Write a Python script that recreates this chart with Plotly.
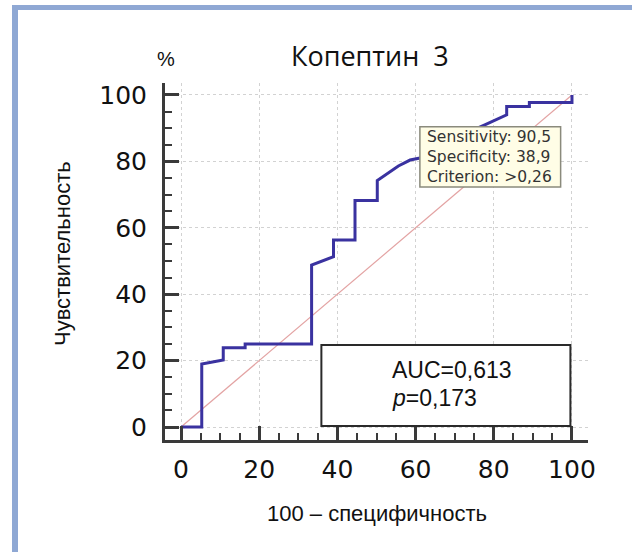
import plotly.graph_objects as go

# ---- data ----
fpr = [0, 5.3, 5.3, 10.8, 10.8, 16.4, 16.4, 33.4, 33.4, 39.0, 39.0, 44.5, 44.5,
       50.2, 50.2, 55.6, 58.6, 61.1, 66.7, 72.2, 77.7, 83.3, 83.3, 89.1, 89.1, 100, 100]
tpr = [0, 0, 19.0, 20.2, 23.9, 23.9, 25.0, 25.0, 48.8, 51.3, 56.3, 56.3, 68.2,
       68.2, 74.2, 78.6, 80.4, 81.0, 85.7, 88.1, 91.0, 94.0, 96.5, 96.5, 97.7, 97.7, 100]
diag_x = [0, 100]
diag_y = [0, 100]
tick_vals = [0, 20, 40, 60, 80, 100]
tick_text = ["0", "20", "40", "60", "80", "100"]
title_text = "Копептин  3"
x_title = "100 – специфичность"
y_title = "Чувствительность"
auc_lines = ["AUC=0,613", "<i>p</i>=0,173"]
tip_lines = ["Sensitivity: 90,5", "Specificity: 38,9", "Criterion: >0,26"]

W, H = 632, 552
L, R, T, B = 165, 44, 83, 112
PW, PH = W - L - R, H - T - B


def pxx(px):
    return (px - L) / PW


def pxy(py):
    return (H - B - py) / PH


fig = go.Figure()
fig.add_trace(go.Scatter(x=diag_x, y=diag_y, mode="lines",
                         line=dict(color="#e3a3a3", width=1.2), hoverinfo="skip"))
fig.add_trace(go.Scatter(x=fpr, y=tpr, mode="lines",
                         line=dict(color="#3a32a0", width=3), hoverinfo="skip"))

axis_common = dict(
    tickvals=tick_vals, ticktext=tick_text,
    ticks="inside", ticklen=14, tickwidth=2.5, tickcolor="#3a3a3a",
    showline=True, linecolor="#3a3a3a", linewidth=3,
    showgrid=True, gridcolor="#d2d2d2", gridwidth=1, griddash="dot",
    zeroline=False,
    tickfont=dict(family="DejaVu Sans", size=25, color="#111111"),
    minor=dict(dtick=5, ticks="inside", ticklen=7, tickwidth=1.5,
               tickcolor="#3a3a3a", showgrid=False),
    fixedrange=True,
)
fig.update_xaxes(range=[-4.1, 104.1], ticklabelstandoff=5, **axis_common)
fig.update_yaxes(range=[-3.9, 103.6], ticklabelstandoff=10, **axis_common)

shapes = []
# frame (partial blue border)
shapes.append(dict(type="rect", xref="paper", yref="paper",
                   x0=pxx(12), x1=pxx(18), y0=pxy(H + 5), y1=pxy(5),
                   fillcolor="#8fa8d4", line=dict(width=0), layer="below"))
shapes.append(dict(type="rect", xref="paper", yref="paper",
                   x0=pxx(12), x1=pxx(W + 5), y0=pxy(10), y1=pxy(5),
                   fillcolor="#8fa8d4", line=dict(width=0), layer="below"))
# AUC box
shapes.append(dict(type="rect", xref="x", yref="y", x0=35.9, x1=99.6, y0=0.3, y1=24.7,
                   fillcolor="white", line=dict(color="#2a2a2a", width=2), layer="above"))
# tooltip box
shapes.append(dict(type="rect", xref="x", yref="y", x0=61.1, x1=97.1, y0=72.3, y1=90.4,
                   fillcolor="#fffde6", line=dict(color="#8a8a7c", width=1.5), layer="above"))

annotations = []
annotations.append(dict(text=title_text, xref="paper", yref="paper", x=pxx(370), y=pxy(55),
                        showarrow=False, xanchor="center", yanchor="middle",
                        font=dict(family="Open Sans", size=27, color="#111111")))
annotations.append(dict(text="%", xref="paper", yref="paper", x=pxx(166), y=pxy(59),
                        showarrow=False, xanchor="center", yanchor="middle",
                        font=dict(family="Liberation Sans", size=20, color="#111111")))
annotations.append(dict(text=y_title, xref="paper", yref="paper", x=pxx(62), y=pxy(254),
                        showarrow=False, xanchor="center", yanchor="middle", textangle=-90,
                        font=dict(family="Liberation Sans", size=22, color="#111111")))
annotations.append(dict(text=x_title, xref="paper", yref="paper", x=pxx(377), y=pxy(513),
                        showarrow=False, xanchor="center", yanchor="middle",
                        font=dict(family="Liberation Sans", size=22, color="#111111")))
for txt, yv in zip(auc_lines, [17.2, 8.7]):
    annotations.append(dict(text=txt, xref="x", yref="y", x=53.5, y=yv,
                            showarrow=False, xanchor="left", yanchor="middle",
                            font=dict(family="Liberation Sans", size=23, color="#111111")))
annotations.append(dict(text="<br>".join(tip_lines), xref="x", yref="y", x=62.4, y=81.3,
                        showarrow=False, xanchor="left", yanchor="middle", align="left",
                        font=dict(family="DejaVu Sans", size=15.5, color="#333333")))

fig.update_layout(
    width=W, height=H,
    margin=dict(l=L, r=R, t=T, b=B, pad=0),
    paper_bgcolor="white", plot_bgcolor="white",
    showlegend=False,
    shapes=shapes, annotations=annotations,
)

fig.write_html("out.html", include_plotlyjs=True, config={"displayModeBar": False})
